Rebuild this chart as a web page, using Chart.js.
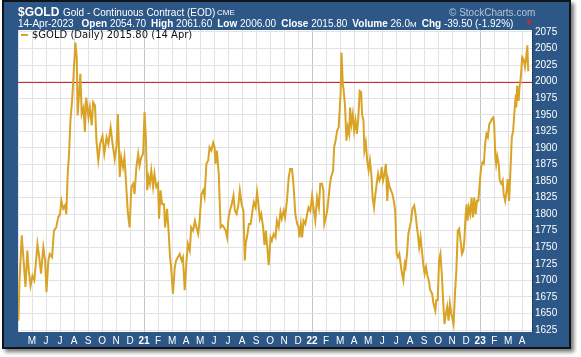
<!DOCTYPE html>
<html><head><meta charset="utf-8">
<script src="https://cdn.jsdelivr.net/npm/chart.js@4/dist/chart.umd.min.js"></script>
<style>
html,body{margin:0;padding:0;background:#fff;}
#wrap{position:relative;width:581px;height:357px;overflow:hidden;}
#c{position:absolute;left:0;top:0;}
.t{position:absolute;white-space:pre;color:#fff;font-family:"Liberation Sans",Arial,sans-serif;line-height:1;}
.t b{font-weight:bold;}
</style></head><body>
<div id="wrap">
<canvas id="c" width="581" height="357"></canvas>
<div class="t" style="left:18px;top:6px;font-size:12px;font-weight:bold;">$GOLD</div>
<div class="t" style="left:63px;top:7.5px;font-size:10px;">Gold - Continuous Contract (EOD)</div>
<div class="t" style="left:217px;top:9px;font-size:8px;">CME</div>
<div class="t" id="stats" style="left:18px;top:18.5px;font-size:10px;"></div>
<div class="t" style="left:449px;top:7.5px;font-size:10px;color:#b4c4d8;">© StockCharts.com</div>
<div style="position:absolute;left:526px;top:21px;width:0;height:0;border-left:3px solid transparent;border-right:3px solid transparent;border-top:4px solid #e0202a;"></div>
<div style="position:absolute;left:21px;top:34px;width:7px;height:2px;background:#d9a326;"></div>
<div class="t" style="left:32px;top:30px;font-size:10px;color:#111;font-family:'DejaVu Sans',Verdana,sans-serif;">$GOLD (Daily) 2015.80 (14 Apr)</div>
</div>
<script>
// ---- data ----
const dates = [
'2020-04-02','2020-04-04','2020-04-09','2020-04-13','2020-04-17','2020-04-21','2020-04-24','2020-04-28',
'2020-05-02','2020-05-06','2020-05-10','2020-05-13','2020-05-17','2020-05-21','2020-05-26','2020-05-30',
'2020-06-02','2020-06-06','2020-06-09','2020-06-14','2020-06-18','2020-06-23','2020-06-27',
'2020-07-01','2020-07-04','2020-07-08','2020-07-12','2020-07-15','2020-07-18','2020-07-21','2020-07-24','2020-07-28',
'2020-08-01','2020-08-04','2020-08-07','2020-08-09','2020-08-12','2020-08-15','2020-08-18','2020-08-22','2020-08-25','2020-08-28',
'2020-09-02','2020-09-05','2020-09-09','2020-09-12','2020-09-16','2020-09-19','2020-09-23','2020-09-27',
'2020-10-02','2020-10-06','2020-10-11','2020-10-15','2020-10-20','2020-10-24','2020-10-29',
'2020-11-02','2020-11-05','2020-11-09','2020-11-12','2020-11-16','2020-11-19','2020-11-23','2020-11-26','2020-11-30',
'2020-12-04','2020-12-08','2020-12-11','2020-12-15','2020-12-19','2020-12-22','2020-12-26','2020-12-30',
'2021-01-02','2021-01-05','2021-01-08','2021-01-11','2021-01-14','2021-01-17','2021-01-21','2021-01-24','2021-01-28',
'2021-02-01','2021-02-03','2021-02-06','2021-02-09','2021-02-13','2021-02-15','2021-02-19','2021-02-22','2021-02-25','2021-02-27',
'2021-03-03','2021-03-07','2021-03-10','2021-03-14','2021-03-18','2021-03-22','2021-03-25','2021-03-29',
'2021-04-02','2021-04-05','2021-04-09','2021-04-12','2021-04-16','2021-04-20','2021-04-23','2021-04-27','2021-04-30',
'2021-05-04','2021-05-08','2021-05-11','2021-05-15','2021-05-19','2021-05-22','2021-05-26','2021-05-30',
'2021-06-02','2021-06-04','2021-06-07','2021-06-11','2021-06-15','2021-06-19','2021-06-22','2021-06-26','2021-06-29',
'2021-07-02','2021-07-05','2021-07-09','2021-07-13','2021-07-16','2021-07-20','2021-07-24','2021-07-27','2021-07-31',
'2021-08-04','2021-08-07','2021-08-09','2021-08-13','2021-08-16','2021-08-20','2021-08-24','2021-08-27','2021-08-31',
'2021-09-03','2021-09-06','2021-09-09','2021-09-12','2021-09-16','2021-09-19','2021-09-22','2021-09-25','2021-09-28',
'2021-10-02','2021-10-05','2021-10-09','2021-10-13','2021-10-16','2021-10-20','2021-10-24','2021-10-27','2021-10-31',
'2021-11-03','2021-11-07','2021-11-11','2021-11-14','2021-11-18','2021-11-21','2021-11-25','2021-11-29',
'2021-12-02','2021-12-04','2021-12-07','2021-12-10','2021-12-13','2021-12-17','2021-12-21','2021-12-24','2021-12-28',
'2022-01-01','2022-01-04','2022-01-08','2022-01-12','2022-01-16','2022-01-19','2022-01-23','2022-01-26','2022-01-28',
'2022-02-02','2022-02-04','2022-02-08','2022-02-11','2022-02-15','2022-02-17','2022-02-20','2022-02-23','2022-02-26','2022-02-28',
'2022-03-02','2022-03-04','2022-03-07','2022-03-09','2022-03-12','2022-03-15','2022-03-18','2022-03-21','2022-03-23','2022-03-26','2022-03-29',
'2022-04-01','2022-04-04','2022-04-07','2022-04-10','2022-04-13','2022-04-16','2022-04-18','2022-04-21','2022-04-23','2022-04-26','2022-04-29',
'2022-05-02','2022-05-05','2022-05-08','2022-05-11','2022-05-14','2022-05-17','2022-05-20','2022-05-23','2022-05-26','2022-05-29','2022-05-31',
'2022-06-03','2022-06-06','2022-06-09','2022-06-12','2022-06-14','2022-06-17','2022-06-20','2022-06-23','2022-06-26','2022-06-29',
'2022-07-02','2022-07-05','2022-07-08','2022-07-11','2022-07-14','2022-07-17','2022-07-20','2022-07-22','2022-07-25','2022-07-28','2022-07-31',
'2022-08-03','2022-08-06','2022-08-10','2022-08-13','2022-08-16','2022-08-18','2022-08-21','2022-08-24','2022-08-27','2022-08-30',
'2022-09-02','2022-09-05','2022-09-08','2022-09-11','2022-09-14','2022-09-18','2022-09-21','2022-09-25','2022-09-27','2022-09-30',
'2022-10-03','2022-10-06','2022-10-09','2022-10-12','2022-10-15','2022-10-18','2022-10-21','2022-10-24','2022-10-27','2022-10-30',
'2022-11-01','2022-11-04','2022-11-07','2022-11-10','2022-11-13','2022-11-16','2022-11-19','2022-11-22','2022-11-25','2022-11-27','2022-11-30',
'2022-12-02','2022-12-04','2022-12-07','2022-12-10','2022-12-13','2022-12-16','2022-12-19','2022-12-22','2022-12-25','2022-12-28','2022-12-31',
'2023-01-03','2023-01-06','2023-01-09','2023-01-12','2023-01-15','2023-01-18','2023-01-21','2023-01-24','2023-01-27','2023-01-30',
'2023-02-01','2023-02-03','2023-02-05','2023-02-07','2023-02-10','2023-02-12','2023-02-15','2023-02-18','2023-02-20','2023-02-23','2023-02-26','2023-02-28',
'2023-03-03','2023-03-06','2023-03-09','2023-03-12','2023-03-15','2023-03-18','2023-03-19','2023-03-21','2023-03-24','2023-03-26','2023-03-28','2023-03-30',
'2023-04-01','2023-04-04','2023-04-07','2023-04-09','2023-04-12','2023-04-14'
];
const closes = [
1639,1695,1768,1730,1690,1745,1715,1692,
1707,1700,1730,1755,1735,1710,1750,1730,
1682,1730,1740,1735,1775,1780,1795,
1800,1820,1808,1813,1800,1861,1891,1941,1974,
2022,2059,2037,1949,1981,2012,1951,1961,1924,1976,
1946,1961,1934,1969,1964,1911,1881,1906,
1918,1891,1916,1906,1931,1908,1883,
1903,1951,1856,1886,1871,1886,1841,1805,1780,
1841,1846,1830,1871,1891,1873,1886,1891,
1954,1916,1836,1856,1846,1866,1841,1861,1841,
1846,1793,1836,1815,1815,1780,1808,1775,1735,1720,
1680,1720,1730,1735,1740,1730,1735,1685,
1730,1755,1745,1780,1775,1790,1780,1770,1790,
1830,1836,1826,1876,1881,1901,1896,1908,
1901,1876,1896,1861,1780,1783,1780,1775,1765,
1795,1805,1815,1828,1805,1800,1815,1836,1815,
1805,1730,1755,1770,1785,1785,1805,1818,1810,
1833,1815,1793,1800,1780,1753,1775,1750,1723,
1765,1760,1770,1765,1790,1780,1803,1793,1805,
1795,1820,1856,1868,1868,1846,1800,1785,
1780,1765,1785,1765,1790,1785,1800,1810,1805,
1828,1810,1790,1825,1810,1846,1846,1836,1785,
1800,1810,1841,1856,1866,1901,1911,1926,1931,1956,
1981,2044,1996,1986,1961,1911,1931,1921,1961,1936,1951,
1926,1941,1921,1946,1986,1984,1951,1941,1896,1908,1881,
1866,1881,1861,1825,1810,1830,1846,1861,1851,1856,1871,
1851,1861,1876,1820,1851,1841,1836,1830,1820,1805,
1740,1735,1740,1725,1710,1700,1725,1720,1740,1770,1780,
1790,1808,1813,1800,1780,1770,1750,1765,1745,1725,
1710,1720,1707,1700,1685,1680,1665,1654,1670,1670,
1730,1740,1710,1670,1634,1649,1660,1639,1665,1649,
1644,1634,1680,1715,1775,1778,1760,1740,1745,1760,1800,
1815,1790,1810,1800,1825,1795,1825,1800,1820,1820,1846,
1871,1878,1876,1906,1921,1916,1936,1939,1944,1946,
1936,1891,1876,1888,1876,1851,1846,1851,1830,1820,1836,1853,
1820,1866,1916,1926,1956,1981,1961,1994,1971,1991,2001,2017,
2037,2034,2022,2032,2055,2015.8
];
const monthLabels = ['','M','J','J','A','S','O','N','D','21','F','M','A','M','J','J','A','S','O','N','D','22','F','M','A','M','J','J','A','S','O','N','D','23','F','M','A'];
const yearLabels = ['21','22','23'];
const yTicks = [1625,1650,1675,1700,1725,1750,1775,1800,1825,1850,1875,1900,1925,1950,1975,2000,2025,2050,2075];
const yMin = 1622, yMax = 2078;
const refLevel = 2000;
const axisStart = '2020-04-01', axisEnd = '2023-04-22';
const headerStats = [['Open','2054.70'],['High','2061.60'],['Low','2006.00'],['Close','2015.80'],['Volume','26.0','M'],['Chg','-39.50 (-1.92%)']];
const headerDate = '14-Apr-2023';

// header stats text
(function(){
  const el = document.getElementById('stats');
  let html = headerDate + '<span style="margin-left:8px"></span>';
  headerStats.forEach((s,i)=>{
    html += (i? '<span style="margin-left:5px"></span>' : '') + '<b>' + s[0] + '</b> ' + s[1] + (s[2] ? '<span style="font-size:8px">' + s[2] + '</span>' : '');
  });
  el.innerHTML = html;
})();

function monthIndex(s){
  const [y,m,d] = s.split('-').map(Number);
  const dim = new Date(y, m, 0).getDate();
  return (y-2020)*12 + (m-4) + (d-1)/dim;
}
const points = dates.map((d,i)=>({x: monthIndex(d), y: closes[i]}));

const framePlugin = {
  id:'frame',
  beforeDraw(chart){
    const c = chart.ctx, a = chart.chartArea;
    c.save();
    c.fillStyle = '#ffffff'; c.fillRect(0,0,chart.width,chart.height);
    c.shadowColor = 'rgba(0,0,0,0.55)'; c.shadowBlur = 4; c.shadowOffsetX = 3; c.shadowOffsetY = 3;
    c.fillStyle = '#101418'; c.fillRect(2,0,569,349);
    c.shadowColor = 'transparent';
    c.fillStyle = '#2c5786'; c.fillRect(4,2,565,345);
    c.fillStyle = '#ffffff'; c.fillRect(a.left,a.top,a.right-a.left,a.bottom-a.top);
    c.restore();
  },
  beforeDatasetsDraw(chart){
    const c = chart.ctx, a = chart.chartArea, y = chart.scales.y.getPixelForValue(refLevel);
    c.save();
    c.strokeStyle = '#d42a2a'; c.lineWidth = 1;
    c.beginPath(); c.moveTo(a.left, Math.round(y)+0.5); c.lineTo(a.right, Math.round(y)+0.5); c.stroke();
    c.restore();
  },
  afterDraw(chart){
    const c = chart.ctx, a = chart.chartArea;
    c.save();
    c.strokeStyle = '#1a2638'; c.lineWidth = 1; c.setLineDash([1,1]);
    c.beginPath(); c.moveTo(a.right+0.5, a.top); c.lineTo(a.right+0.5, a.bottom); c.stroke();
    c.restore();
  }
};

Chart.defaults.font.family = '"Liberation Sans", Arial, sans-serif';
new Chart(document.getElementById('c'), {
  type:'line',
  data:{ datasets:[{ data: points, borderColor:'#d9a326', borderWidth:2, pointRadius:0, tension:0, fill:false }]},
  options:{
    responsive:false, animation:false, devicePixelRatio:1,
    layout:{ padding:{ left:18, top:30, right:13, bottom:0 } },
    plugins:{ legend:{display:false}, tooltip:{enabled:false} },
    scales:{
      x:{
        type:'linear', min: monthIndex(axisStart), max: monthIndex(axisEnd),
        afterBuildTicks(s){ s.ticks = monthLabels.map((l,i)=>({value:i})); },
        afterFit(s){ s.height = 25; },
        grid:{ drawTicks:false, color:(ctx)=> (ctx.tick && yearLabels.includes(monthLabels[Math.round(ctx.tick.value)])) ? '#c4c4c4' : '#e2e2e2', lineWidth:1 },
        border:{ display:false },
        ticks:{ autoSkip:false, maxRotation:0, padding:3, color:'#ffffff',
          font:(ctx)=>({ size: 10, weight: (ctx.tick && yearLabels.includes(monthLabels[Math.round(ctx.tick.value)])) ? 'bold' : 'normal' }),
          callback:(v)=> monthLabels[Math.round(v)] }
      },
      y:{
        position:'right', min:yMin, max:yMax,
        afterBuildTicks(s){ s.ticks = yTicks.map(v=>({value:v})); },
        afterFit(s){ s.width = 36; },
        grid:{ drawTicks:false, color:'#e2e2e2', lineWidth:1 },
        border:{ display:false },
        ticks:{ padding:3, color:'#ffffff', font:{ size:10 }, callback:(v)=> String(v) }
      }
    }
  },
  plugins:[framePlugin]
});
</script>
</body></html>
